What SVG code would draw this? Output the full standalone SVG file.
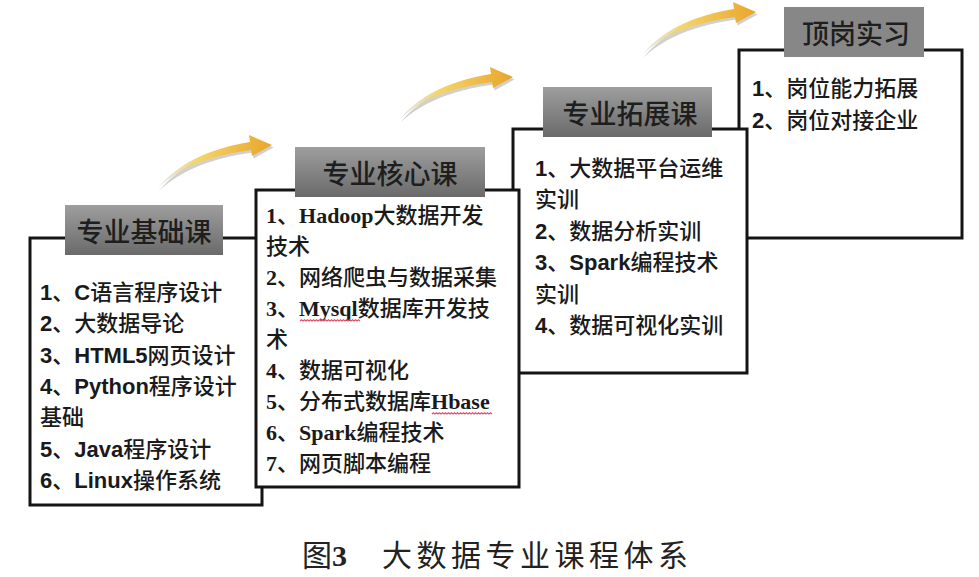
<svg xmlns="http://www.w3.org/2000/svg" width="979" height="577" viewBox="0 0 979 577">
<style>
.box{fill:#fff;stroke:#141414;stroke-width:3}
.hd{font-family:"Noto Sans CJK SC",sans-serif;font-size:27px;fill:#1e1e1e;text-anchor:middle;dominant-baseline:central;font-weight:500}
.ts{font-family:"Liberation Sans","Noto Sans CJK SC",sans-serif;font-size:22px;fill:#1a1a1a;font-weight:500}
.tr{font-family:"Liberation Serif","Noto Sans CJK SC",serif;font-size:22px;fill:#1a1a1a;font-weight:500}
.b{font-weight:bold}
.wave{fill:none;stroke:#e0506a;stroke-width:1.2}
.cap{font-family:"Noto Sans CJK SC",sans-serif;font-size:30px;fill:#222}
</style>
<defs>
<linearGradient id="hdGrad" x1="0" y1="0" x2="0" y2="1"><stop offset="0" stop-color="#9e9e9e"/><stop offset="1" stop-color="#6a6a6a"/></linearGradient>
<linearGradient id="arGrad" x1="0" y1="0" x2="1" y2="0"><stop offset="0" stop-color="#cfcfc8" stop-opacity="0.4"/><stop offset="0.35" stop-color="#f4d56a"/><stop offset="1" stop-color="#eaa52a"/></linearGradient>
<g id="arrow">
<path d="M0,0 C18,-22 45,-38 92,-46 L91,-53 L114,-43 L94,-32 L93,-38 C50,-32 22,-20 0,0 Z" fill="#777" opacity="0.35" transform="translate(1.5,2.5)"/>
<path d="M0,0 C18,-22 45,-38 92,-46 L91,-53 L114,-43 L94,-32 L93,-38 C50,-32 22,-20 0,0 Z" fill="url(#arGrad)"/>
</g>
</defs>
<rect width="979" height="577" fill="#fff"/>

<g id="connectors">
<use href="#arrow" transform="translate(158,188)"/>
<use href="#arrow" transform="translate(399,120)"/>
<use href="#arrow" transform="translate(642,55)"/>
</g>

<g id="node-jichu">
<rect class="box" x="30" y="238" width="232" height="267"/>
<rect x="65" y="205" width="158" height="50" fill="url(#hdGrad)"/>
<text class="hd" x="144" y="230">专业基础课</text>
<text class="ts" x="40" y="300"><tspan class="b">1</tspan>、<tspan class="b">C</tspan>语言程序设计</text>
<text class="ts" x="40" y="331.3"><tspan class="b">2</tspan>、大数据导论</text>
<text class="ts" x="40" y="362.7"><tspan class="b">3</tspan>、<tspan class="b">HTML5</tspan>网页设计</text>
<text class="ts" x="40" y="394"><tspan class="b">4</tspan>、<tspan class="b">Python</tspan>程序设计</text>
<text class="ts" x="40" y="425.3">基础</text>
<text class="ts" x="40" y="456.7"><tspan class="b">5</tspan>、<tspan class="b">Java</tspan>程序设计</text>
<text class="ts" x="40" y="488"><tspan class="b">6</tspan>、<tspan class="b">Linux</tspan>操作系统</text>
</g>

<g id="node-shixi">
<rect class="box" x="739" y="50" width="223" height="188"/>
<rect x="784" y="7" width="140" height="50" fill="#878787"/>
<text class="hd" x="856" y="32">顶岗实习</text>
<text class="ts" x="752" y="96"><tspan class="b">1</tspan>、岗位能力拓展</text>
<text class="ts" x="752" y="128"><tspan class="b">2</tspan>、岗位对接企业</text>
</g>

<g id="node-tuozhan">
<rect class="box" x="513" y="129" width="234" height="244"/>
<rect x="543" y="87" width="169" height="50" fill="url(#hdGrad)"/>
<text class="hd" x="630" y="112">专业拓展课</text>
<text class="ts" x="535" y="176"><tspan class="b">1</tspan>、大数据平台运维</text>
<text class="ts" x="535" y="207.4">实训</text>
<text class="ts" x="535" y="238.8"><tspan class="b">2</tspan>、数据分析实训</text>
<text class="ts" x="535" y="270.2"><tspan class="b">3</tspan>、<tspan class="b">Spark</tspan>编程技术</text>
<text class="ts" x="535" y="301.6">实训</text>
<text class="ts" x="535" y="333"><tspan class="b">4</tspan>、数据可视化实训</text>
</g>

<g id="node-hexin">
<rect class="box" x="256" y="190" width="263" height="297"/>
<rect x="295" y="147" width="190" height="50" fill="url(#hdGrad)"/>
<text class="hd" x="390" y="172">专业核心课</text>
<text class="tr" x="266" y="223"><tspan class="b">1</tspan>、<tspan class="b">Hadoop</tspan>大数据开发</text>
<text class="tr" x="266" y="254">技术</text>
<text class="tr" x="266" y="285"><tspan class="b">2</tspan>、网络爬虫与数据采集</text>
<text class="tr" x="266" y="316"><tspan class="b">3</tspan>、<tspan class="b">Mysql</tspan>数据库开发技</text>
<text class="tr" x="266" y="347">术</text>
<text class="tr" x="266" y="378"><tspan class="b">4</tspan>、数据可视化</text>
<text class="tr" x="266" y="409"><tspan class="b">5</tspan>、分布式数据库<tspan class="b">Hbase</tspan></text>
<text class="tr" x="266" y="440"><tspan class="b">6</tspan>、<tspan class="b">Spark</tspan>编程技术</text>
<text class="tr" x="266" y="471"><tspan class="b">7</tspan>、网页脚本编程</text>
<path class="wave" d="M300,321 l1.5-1.2 1.5 1.2 1.5-1.2 1.5 1.2 1.5-1.2 1.5 1.2 1.5-1.2 1.5 1.2 1.5-1.2 1.5 1.2 1.5-1.2 1.5 1.2 1.5-1.2 1.5 1.2 1.5-1.2 1.5 1.2 1.5-1.2 1.5 1.2 1.5-1.2 1.5 1.2 1.5-1.2 1.5 1.2 1.5-1.2 1.5 1.2 1.5-1.2 1.5 1.2 1.5-1.2 1.5 1.2 1.5-1.2 1.5 1.2 1.5-1.2 1.5 1.2 1.5-1.2 1.5 1.2 1.5-1.2 1.5 1.2 1.5-1.2 1.5 1.2 1.5-1.2 1.5 1.2"/>
<path class="wave" d="M432,414 l1.5-1.2 1.5 1.2 1.5-1.2 1.5 1.2 1.5-1.2 1.5 1.2 1.5-1.2 1.5 1.2 1.5-1.2 1.5 1.2 1.5-1.2 1.5 1.2 1.5-1.2 1.5 1.2 1.5-1.2 1.5 1.2 1.5-1.2 1.5 1.2 1.5-1.2 1.5 1.2 1.5-1.2 1.5 1.2 1.5-1.2 1.5 1.2 1.5-1.2 1.5 1.2 1.5-1.2 1.5 1.2 1.5-1.2 1.5 1.2 1.5-1.2 1.5 1.2 1.5-1.2 1.5 1.2 1.5-1.2 1.5 1.2 1.5-1.2 1.5 1.2 1.5-1.2 1.5 1.2"/>
</g>

<text class="cap" y="566"><tspan x="302">图</tspan><tspan font-family="Liberation Serif" font-weight="bold">3</tspan><tspan x="382" letter-spacing="4.5">大数据专业课程体系</tspan></text>
</svg>
